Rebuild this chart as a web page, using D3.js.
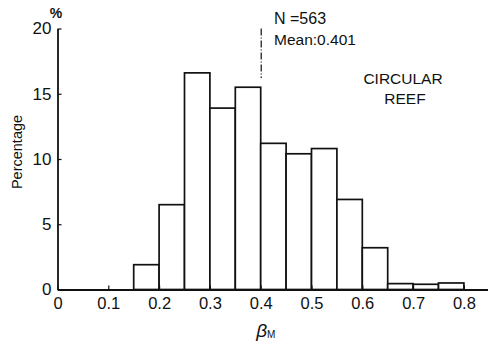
<!DOCTYPE html>
<html>
<head>
<meta charset="utf-8">
<script src="https://cdn.jsdelivr.net/npm/d3@7"></script>
<style>
  body { margin: 0; background: #fff; }
  svg { display: block; font-family: "Liberation Sans", "DejaVu Sans", sans-serif; }
</style>
</head>
<body>
<svg id="chart"></svg>
<script>
// bins of beta_M (width 0.05) and percentage in each
const binStarts = [0.15, 0.20, 0.25, 0.30, 0.35, 0.40, 0.45, 0.50, 0.55, 0.60, 0.65, 0.70, 0.75];
const percents = [1.9, 6.5, 16.6, 13.9, 15.5, 11.2, 10.4, 10.8, 6.9, 3.2, 0.45, 0.4, 0.5];
const xTicks = [0, 0.1, 0.2, 0.3, 0.4, 0.5, 0.6, 0.7, 0.8];
const yTicks = [0, 5, 10, 15, 20];
const binWidth = 0.05;
const meanValue = 0.401;
const sampleSize = 563;

const width = 488, height = 346;
const margin = { left: 57.5, top: 28.5, bottom: 56.5 };

const svg = d3.select("#chart").attr("width", width).attr("height", height);

const x = d3.scaleLinear().domain([0, 0.85]).range([margin.left, margin.left + 0.85 * 508]);
const y = d3.scaleLinear().domain([0, 20]).range([height - margin.bottom, margin.top]);

// bars
svg.append("g")
  .selectAll("rect")
  .data(binStarts)
  .join("rect")
  .attr("x", d => x(d))
  .attr("y", (d, i) => y(percents[i]))
  .attr("width", d => x(d + binWidth) - x(d))
  .attr("height", (d, i) => y(0) - y(percents[i]))
  .attr("fill", "#fff")
  .attr("stroke", "#111")
  .attr("stroke-width", 1.7);

// x axis
const xAxis = d3.axisBottom(x)
  .tickValues(xTicks)
  .tickSizeInner(-4)
  .tickSizeOuter(0)
  .tickPadding(8)
  .tickFormat(d => d === 0 ? "0" : d3.format(".1f")(d));

const gx = svg.append("g")
  .attr("transform", `translate(0,${y(0)})`)
  .call(xAxis);
gx.select(".domain").attr("stroke", "#111").attr("stroke-width", 1.8);
gx.selectAll(".tick line").attr("stroke", "#111").attr("stroke-width", 1.2);
gx.selectAll("text").attr("font-size", 16.5).attr("fill", "#111");

// y axis
const yAxis = d3.axisLeft(y)
  .tickValues(yTicks)
  .tickSizeInner(-4)
  .tickSizeOuter(0)
  .tickPadding(6);

const gy = svg.append("g")
  .attr("transform", `translate(${margin.left},0)`)
  .call(yAxis);
gy.select(".domain").attr("stroke", "#111").attr("stroke-width", 1.8);
gy.selectAll(".tick line").attr("stroke", "#111").attr("stroke-width", 1.2);
gy.selectAll("text").attr("font-size", 17).attr("fill", "#111");

// percent sign above y axis
svg.append("text")
  .attr("x", 56).attr("y", 18)
  .attr("text-anchor", "middle")
  .attr("font-size", 14)
  .attr("font-weight", "bold")
  .attr("fill", "#111")
  .text("%");

// y label
svg.append("text")
  .attr("transform", `translate(22,152) rotate(-90)`)
  .attr("text-anchor", "middle")
  .attr("font-size", 14.5)
  .attr("fill", "#111")
  .text("Percentage");

// x label: beta_M
const xl = svg.append("text")
  .attr("x", x(0.41))
  .attr("y", 337)
  .attr("text-anchor", "middle")
  .attr("fill", "#111");
xl.append("tspan").attr("font-size", 19).attr("font-style", "italic").text("β");
xl.append("tspan").attr("font-size", 10).attr("dy", 1).text("M");

// mean dashed line
svg.append("line")
  .attr("x1", x(meanValue)).attr("x2", x(meanValue))
  .attr("y1", y(20)).attr("y2", y(16.2))
  .attr("stroke", "#111")
  .attr("stroke-width", 1.2)
  .attr("stroke-dasharray", "7,2,1,2");

// annotations
svg.append("text")
  .attr("x", 274).attr("y", 24)
  .attr("font-size", 16)
  .attr("fill", "#111")
  .text(`N =${sampleSize}`);
svg.append("text")
  .attr("x", 274).attr("y", 45)
  .attr("font-size", 15.5)
  .attr("fill", "#111")
  .text(`Mean:${meanValue}`);

svg.append("text")
  .attr("x", 403).attr("y", 84)
  .attr("text-anchor", "middle")
  .attr("font-size", 15.5)
  .attr("fill", "#111")
  .text("CIRCULAR");
svg.append("text")
  .attr("x", 405).attr("y", 104)
  .attr("text-anchor", "middle")
  .attr("font-size", 15.5)
  .attr("fill", "#111")
  .text("REEF");
</script>
</body>
</html>
